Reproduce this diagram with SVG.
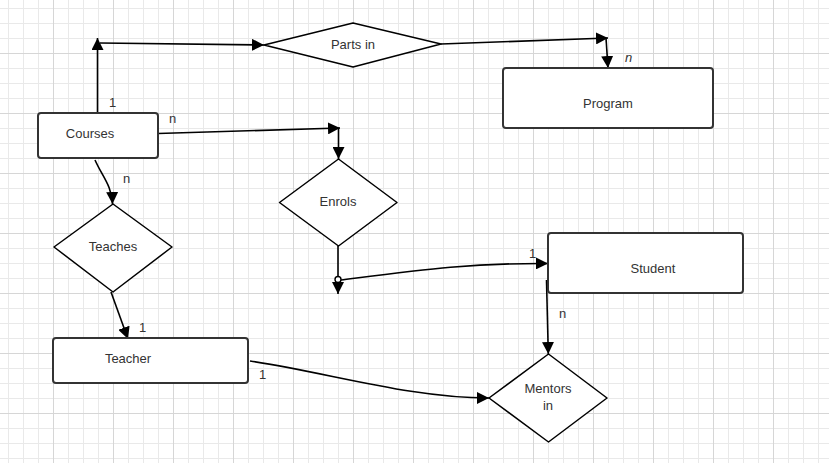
<svg xmlns="http://www.w3.org/2000/svg" width="829" height="463" viewBox="0 0 829 463">
<defs>
<pattern id="grid" patternUnits="userSpaceOnUse" x="53" y="53" width="60" height="60">
<path d="M15.5,0V60M30.5,0V60M45.5,0V60M0,15.5H60M0,30.5H60M0,45.5H60" stroke="#e9e9e9" stroke-width="1" fill="none"/>
<path d="M0.5,0V60M0,0.5H60" stroke="#d6d6d6" stroke-width="1" fill="none"/>
</pattern>
<marker id="arr" viewBox="0 0 10 10" refX="10" refY="5" markerWidth="12" markerHeight="12" markerUnits="userSpaceOnUse" orient="auto">
<path d="M0,0 L10,5 L0,10 Z" fill="#000"/>
</marker>
</defs>
<style>
.ent{fill:#fff;stroke:#333;stroke-width:2}
.rel{fill:#fff;stroke:#000;stroke-width:1.5;stroke-linejoin:round}
.t{font-family:"Liberation Sans",Arial,sans-serif;font-size:13px;fill:#333;text-anchor:middle}
.l{font-family:"Liberation Sans",Arial,sans-serif;font-size:13px;fill:#333}
.c{fill:none;stroke:#000;stroke-width:1.6}
</style>
<rect width="829" height="463" fill="#fff"/>
<rect width="829" height="463" fill="url(#grid)"/>

<g id="connectors">
<path class="c" d="M97.5,113 V38" marker-end="url(#arr)"/>
<path class="c" d="M100,43 L264,45" marker-end="url(#arr)"/>
<path class="c" d="M441,44 L608,38" marker-end="url(#arr)"/>
<path class="c" d="M606,38 L608,68" marker-end="url(#arr)"/>
<path class="c" d="M158,133.5 L340,128" marker-end="url(#arr)"/>
<path class="c" d="M338.5,128 V159" marker-end="url(#arr)"/>
<path class="c" d="M95,160 C102,176 112,186 112.5,204" marker-end="url(#arr)"/>
<path class="c" d="M111,292 L128,339" marker-end="url(#arr)"/>
<path class="c" d="M338,246 V294" marker-end="url(#arr)"/>
<circle cx="338" cy="279.5" r="3" fill="#fff" stroke="#000" stroke-width="1.4"/>
<path class="c" d="M341,280 C420,270 470,263 548,263.5" marker-end="url(#arr)"/>
<path class="c" d="M546.5,280 L548.3,354" marker-end="url(#arr)"/>
<path class="c" d="M250,361 C330,373 410,398 489,398" marker-end="url(#arr)"/>
</g>

<g id="labels">
<text class="l" x="109" y="107">1</text>
<text class="l" x="169" y="123">n</text>
<text class="l" x="123" y="183">n</text>
<text class="l" x="625" y="62" font-style="italic">n</text>
<text class="l" x="139" y="332">1</text>
<text class="l" x="259" y="379">1</text>
<text class="l" x="529" y="258">1</text>
<text class="l" x="559" y="318">n</text>
</g>

<g id="courses">
<rect class="ent" x="38" y="113" width="120" height="45" rx="3"/>
<text class="t" x="90" y="138">Courses</text>
</g>
<g id="program">
<rect class="ent" x="503" y="68" width="210" height="60" rx="3"/>
<text class="t" x="608" y="108">Program</text>
</g>
<g id="teacher">
<rect class="ent" x="53" y="338" width="195" height="45" rx="3"/>
<text class="t" x="128" y="363">Teacher</text>
</g>
<g id="student">
<rect class="ent" x="548" y="233" width="195" height="60" rx="3"/>
<text class="t" x="653" y="273">Student</text>
</g>
<g id="parts-in">
<path class="rel" d="M264,45 L353,23 L441,44 L353,67 Z"/>
<text class="t" x="353" y="49">Parts in</text>
</g>
<g id="enrols">
<path class="rel" d="M279.5,202.5 L338.5,159 L397,202.5 L338.5,246 Z"/>
<text class="t" x="338" y="206">Enrols</text>
</g>
<g id="teaches">
<path class="rel" d="M54,247 L113,204 L172,247 L113,292 Z"/>
<text class="t" x="113" y="251">Teaches</text>
</g>
<g id="mentors-in">
<path class="rel" d="M489,398 L548.5,354 L607,398 L548.5,442 Z"/>
<text class="t" x="548" y="393">Mentors</text>
<text class="t" x="548" y="410">in</text>
</g>
</svg>
